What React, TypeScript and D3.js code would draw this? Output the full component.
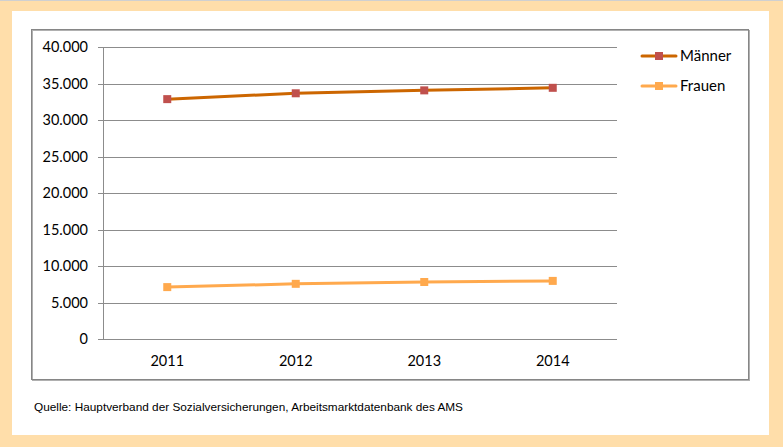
import React from "react";
import * as d3 from "d3";

const years = ["2011", "2012", "2013", "2014"];
const maenner = [32900, 33700, 34100, 34450];
const frauen = [7150, 7600, 7850, 8000];
const yTicks = [0, 5000, 10000, 15000, 20000, 25000, 30000, 35000, 40000];
const seriesNames = ["Männer", "Frauen"];
const source = "Quelle: Hauptverband der Sozialversicherungen, Arbeitsmarktdatenbank des AMS";

const W = 783;
const H = 447;
const left = 103;
const right = 617;
const top = 47.3;
const bottom = 339.3;

const lineColors = ["#CC6600", "#FFA94D"];
const markerColors = ["#C0504D", "#FFA94D"];
const labelFont = "Lato, 'Open Sans', sans-serif";

export default function App() {
  const x = d3.scaleBand<string>().domain(years).range([left, right]);
  const y = d3.scaleLinear().domain([0, 40000]).range([bottom, top]);
  const fmt = (v: number) => (v === 0 ? "0" : d3.format(",")(v).replace(/,/g, "."));
  const line = d3
    .line<number>()
    .x((_, i) => (x(years[i]) as number) + x.bandwidth() / 2)
    .y((d) => y(d));
  const series = [maenner, frauen];

  return (
    <svg
      width={W}
      height={H}
      style={{ position: "absolute", left: 0, top: 0 }}
      xmlns="http://www.w3.org/2000/svg"
    >
      <rect x={0} y={0} width={W} height={H} fill="#FFDEAA" />
      <line x1={0} x2={W} y1={0.5} y2={0.5} stroke="#d0d0d0" />
      <rect x={12} y={11} width={757} height={424} fill="#ffffff" />
      <rect x={32.5} y={30.5} width={717} height={350} fill="none" stroke="#b0b0b0" strokeWidth={1} />
      <rect x={31.5} y={29.5} width={717} height={350} fill="none" stroke="#868686" strokeWidth={1} />

      {yTicks.map((t) => (
        <g key={t}>
          <line x1={left - 5} x2={right} y1={Math.round(y(t)) + 0.5} y2={Math.round(y(t)) + 0.5} stroke="#8c8c8c" />
          <text
            x={88}
            y={y(t)}
            dy="0.35em"
            textAnchor="end"
            fontFamily={labelFont}
            fontSize={14.5}
            fill="#000"
          >
            {fmt(t)}
          </text>
        </g>
      ))}
      <line x1={left + 0.5} x2={left + 0.5} y1={top} y2={bottom + 0.5} stroke="#8c8c8c" />

      {years.map((yr) => (
        <text
          key={yr}
          x={(x(yr) as number) + x.bandwidth() / 2}
          y={361}
          dy="0.35em"
          textAnchor="middle"
          fontFamily={labelFont}
          fontSize={14.5}
          fill="#000"
        >
          {yr}
        </text>
      ))}

      {series.map((s, si) => (
        <g key={si}>
          <path d={line(s) as string} fill="none" stroke={lineColors[si]} strokeWidth={3} />
          {s.map((v, i) => (
            <rect
              key={i}
              x={(x(years[i]) as number) + x.bandwidth() / 2 - 4}
              y={y(v) - 4}
              width={8}
              height={8}
              fill={markerColors[si]}
            />
          ))}
        </g>
      ))}

      {seriesNames.map((n, i) => {
        const ly = 56 + i * 30;
        return (
          <g key={n}>
            <line x1={642} x2={676} y1={ly} y2={ly} stroke={lineColors[i]} strokeWidth={3} strokeLinecap="round" />
            <rect x={655} y={ly - 4} width={8} height={8} fill={markerColors[i]} />
            <text x={680} y={ly} dy="0.35em" fontFamily={labelFont} fontSize={15} fill="#000">
              {n}
            </text>
          </g>
        );
      })}

      <text
        x={34}
        y={407}
        dy="0.35em"
        fontFamily="'Liberation Sans', Arial, sans-serif"
        fontSize={11}
        fill="#000"
        textLength={429}
        lengthAdjust="spacingAndGlyphs"
      >
        {source}
      </text>
    </svg>
  );
}
